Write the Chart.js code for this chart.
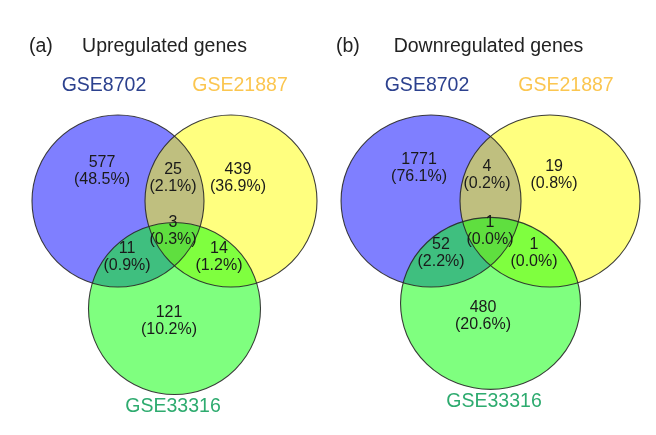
<!DOCTYPE html>
<html>
<head>
<meta charset="utf-8">
<script src="https://cdn.jsdelivr.net/npm/chart.js@4.4.1/dist/chart.umd.min.js"></script>
<style>
  html, body { margin: 0; padding: 0; background: #fff; }
  #wrap { position: relative; width: 656px; height: 435px; }
  .panel { position: absolute; top: 0; width: 328px; height: 435px; }
</style>
</head>
<body>
<div id="wrap">
  <div class="panel" style="left:0"><canvas id="venn-a"></canvas></div>
  <div class="panel" style="left:328px"><canvas id="venn-b"></canvas></div>
</div>
<script>
  "use strict";

  // Data
  const panelTags = ["(a)", "(b)"];
  const panelTitles = ["Upregulated genes", "Downregulated genes"];
  const setNames = ["GSE8702", "GSE21887", "GSE33316"];
  // regions: 8702 only, 8702&21887, 21887 only, all three, 8702&33316, 21887&33316, 33316 only
  const upCounts = [577, 25, 439, 3, 11, 14, 121];
  const downCounts = [1771, 4, 19, 1, 52, 1, 480];

  // Colours
  const fillColors = ["rgba(0, 0, 255, 0.5)", "rgba(255, 255, 0, 0.5)", "rgba(0, 255, 0, 0.5)"];
  const nameColors = ["#2c418e", "#fbc650", "#2eab6f"];
  const FONT = "'Liberation Sans', Arial, sans-serif";

  // Layout of each panel, in circle-radius units
  const layouts = [
    {
      xRange: [-2.029, 1.785],
      yRange: [-2.721, 2.337],
      centers: [[-0.657, 0], [0.657, 0], [0, -1.25]],
      regionPos: [[-0.843, 0.442], [-0.017, 0.36], [0.738, 0.36], [-0.017, -0.256],
                  [-0.552, -0.558], [0.517, -0.558], [-0.064, -1.302]],
      namePos: [[-0.82, 1.337], [0.762, 1.337], [-0.017, -2.395]],
      tagX: 29,
      titleX: 164.5,
    },
    {
      xRange: [-1.806, 1.839],
      yRange: [-2.721, 2.337],
      centers: [[-0.661, 0], [0.661, 0], [0, -1.19]],
      regionPos: [[-0.794, 0.477], [-0.039, 0.395], [0.706, 0.395], [-0.006, -0.256],
                  [-0.55, -0.512], [0.483, -0.512], [-0.083, -1.244]],
      namePos: [[-0.706, 1.337], [0.839, 1.337], [0.039, -2.337]],
      tagX: 8,
      titleX: 160.5,
    },
  ];

  // Venn plugin: draws the set circles and the texts through the chart scales
  const vennPlugin = {
    id: "venn",
    beforeDatasetsDraw(chart) {
      const ctx = chart.ctx;
      const sx = chart.scales.x;
      const sy = chart.scales.y;
      const rx = Math.abs(sx.getPixelForValue(1) - sx.getPixelForValue(0));
      const ry = Math.abs(sy.getPixelForValue(1) - sy.getPixelForValue(0));
      ctx.save();
      chart.data.datasets.forEach(function (ds, i) {
        const pt = chart.getDatasetMeta(i).data[0];
        ctx.beginPath();
        ctx.ellipse(pt.x, pt.y, rx, ry, 0, 0, Math.PI * 2);
        ctx.fillStyle = ds.backgroundColor;
        ctx.fill();
      });
      chart.data.datasets.forEach(function (ds, i) {
        const pt = chart.getDatasetMeta(i).data[0];
        ctx.beginPath();
        ctx.ellipse(pt.x, pt.y, rx, ry, 0, 0, Math.PI * 2);
        ctx.strokeStyle = "rgba(40, 40, 40, 0.9)";
        ctx.lineWidth = 1.1;
        ctx.stroke();
      });
      ctx.restore();
    },
    afterDatasetsDraw(chart, args, opts) {
      const ctx = chart.ctx;
      const sx = chart.scales.x;
      const sy = chart.scales.y;
      const total = opts.counts.reduce(function (a, b) { return a + b; }, 0);
      ctx.save();
      ctx.textBaseline = "middle";

      // title
      ctx.fillStyle = "#222";
      ctx.font = "19.5px " + FONT;
      ctx.textAlign = "left";
      ctx.fillText(opts.tag, opts.tagX, 47);
      ctx.textAlign = "center";
      ctx.fillText(opts.title, opts.titleX, 47);

      // set names
      setNames.forEach(function (name, i) {
        ctx.fillStyle = nameColors[i];
        ctx.fillText(name, sx.getPixelForValue(opts.namePos[i][0]), sy.getPixelForValue(opts.namePos[i][1]));
      });

      // region counts
      ctx.font = "16px " + FONT;
      ctx.fillStyle = "#1a1a1a";
      opts.counts.forEach(function (n, i) {
        const px = sx.getPixelForValue(opts.regionPos[i][0]);
        const py = sy.getPixelForValue(opts.regionPos[i][1]);
        ctx.fillText(String(n), px, py);
        ctx.fillText("(" + (n / total * 100).toFixed(1) + "%)", px, py + 17);
      });
      ctx.restore();
    },
  };

  function makeVenn(canvasId, idx, counts) {
    const lay = layouts[idx];
    return new Chart(document.getElementById(canvasId), {
      type: "scatter",
      data: {
        datasets: setNames.map(function (name, i) {
          return {
            label: name,
            data: [{ x: lay.centers[i][0], y: lay.centers[i][1] }],
            backgroundColor: fillColors[i],
            pointRadius: 0,
            pointHoverRadius: 0,
          };
        }),
      },
      options: {
        responsive: true,
        maintainAspectRatio: false,
        animation: false,
        layout: { padding: 0 },
        scales: {
          x: { type: "linear", min: lay.xRange[0], max: lay.xRange[1], display: false },
          y: { type: "linear", min: lay.yRange[0], max: lay.yRange[1], display: false },
        },
        plugins: {
          legend: { display: false },
          tooltip: { enabled: false },
          venn: {
            counts: counts,
            regionPos: lay.regionPos,
            namePos: lay.namePos,
            tag: panelTags[idx],
            title: panelTitles[idx],
            tagX: lay.tagX,
            titleX: lay.titleX,
          },
        },
      },
      plugins: [vennPlugin],
    });
  }

  makeVenn("venn-a", 0, upCounts);
  makeVenn("venn-b", 1, downCounts);
</script>
</body>
</html>
